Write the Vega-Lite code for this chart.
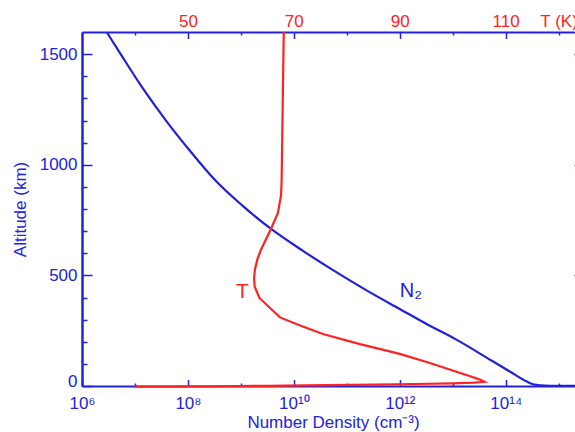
{
  "$schema": "https://vega.github.io/schema/vega-lite/v6.json",
  "width": 502,
  "height": 354,
  "autosize": {"type": "none"},
  "padding": {"left": 82, "top": 32, "right": 0, "bottom": 46},
  "background": "white",
  "config": {
    "view": {"stroke": null},
    "font": "Liberation Sans",
    "axis": {
      "grid": false,
      "labelFont": "Liberation Sans",
      "titleFont": "Liberation Sans",
      "titleFontWeight": "normal",
      "labelFontSize": 17,
      "titleFontSize": 17,
      "domainColor": "#2222dd",
      "tickColor": "#2222dd",
      "domainWidth": 2,
      "tickWidth": 1.5,
      "labelOverlap": false,
      "labelBound": false,
      "labelColor": "#2222dd",
      "titleColor": "#2222dd"
    }
  },
  "datasets": {
    "n2": [
      {"alt": 1600, "n": 2.92e6},
      {"alt": 1500, "n": 5.37e6},
      {"alt": 1345, "n": 1.41e7},
      {"alt": 1203, "n": 3.76e7},
      {"alt": 1062, "n": 1.10e8},
      {"alt": 932, "n": 3.21e8},
      {"alt": 815, "n": 1.07e9},
      {"alt": 711, "n": 3.66e9},
      {"alt": 611, "n": 1.48e10},
      {"alt": 519, "n": 5.89e10},
      {"alt": 431, "n": 2.40e11},
      {"alt": 348, "n": 9.95e11},
      {"alt": 277, "n": 3.39e12},
      {"alt": 209.5, "n": 1.17e13},
      {"alt": 115, "n": 5.37e13},
      {"alt": 62, "n": 1.26e14},
      {"alt": 21, "n": 2.45e14},
      {"alt": 9, "n": 3.16e14},
      {"alt": 4.5, "n": 3.98e14},
      {"alt": 2, "n": 5.62e14},
      {"alt": 0.8, "n": 1.0e15},
      {"alt": 0.2, "n": 2.0e15},
      {"alt": 0, "n": 3.0e15}
    ],
    "temp": [
      {"i": 1, "alt": -3, "T": 40},
      {"i": 2, "alt": -3, "T": 46},
      {"i": 3, "alt": -1.5, "T": 55},
      {"i": 4, "alt": 1, "T": 65},
      {"i": 5, "alt": 3, "T": 72},
      {"i": 6, "alt": 6, "T": 85},
      {"i": 7, "alt": 9, "T": 93},
      {"i": 8, "alt": 12, "T": 100},
      {"i": 9, "alt": 15, "T": 104},
      {"i": 10, "alt": 19, "T": 106},
      {"i": 11, "alt": 30, "T": 105},
      {"i": 12, "alt": 44, "T": 103.3},
      {"i": 13, "alt": 104, "T": 95.7},
      {"i": 14, "alt": 145, "T": 90},
      {"i": 15, "alt": 189, "T": 82.5},
      {"i": 16, "alt": 235, "T": 75.5},
      {"i": 17, "alt": 273, "T": 71.2},
      {"i": 18, "alt": 310, "T": 67.4},
      {"i": 19, "alt": 398, "T": 63.5},
      {"i": 20, "alt": 450, "T": 62.6},
      {"i": 21, "alt": 488, "T": 62.5},
      {"i": 22, "alt": 526, "T": 62.65},
      {"i": 23, "alt": 571, "T": 63.1},
      {"i": 24, "alt": 616, "T": 63.8},
      {"i": 25, "alt": 711, "T": 65.7},
      {"i": 26, "alt": 782, "T": 67.0},
      {"i": 27, "alt": 864, "T": 67.6},
      {"i": 28, "alt": 932, "T": 67.7},
      {"i": 29, "alt": 1600, "T": 68.1}
    ],
    "n2label": [{"n": 1e12, "alt": 402, "text": "N₂"}],
    "tlabel": [{"T": 60.3, "alt": 399, "text": "T"}]
  },
  "layer": [
    {
      "layer": [
        {
          "data": {"name": "n2"},
          "mark": {"type": "line", "color": "#2020d8", "strokeWidth": 2.2, "interpolate": "monotone"},
          "encoding": {
            "x": {
              "field": "n",
              "type": "quantitative",
              "scale": {"type": "log", "domain": [1e6, 3e15], "nice": false},
              "axis": {
                "orient": "bottom",
                "values": [1e6, 1e7, 1e8, 1e9, 1e10, 1e11, 1e12, 1e13, 1e14, 1e15],
                "tickSize": {"expr": "round(log(datum.value)/LN10) % 2 == 0 ? -6.5 : -3"},
                "labelExpr": "round(log(datum.value)/LN10) == 6 ? '10⁶' : round(log(datum.value)/LN10) == 8 ? '10⁸' : round(log(datum.value)/LN10) == 10 ? '10¹⁰' : round(log(datum.value)/LN10) == 12 ? '10¹²' : round(log(datum.value)/LN10) == 14 ? '10¹⁴' : ''",
                "labelPadding": 15.8,
                "labelFlush": false,
                "labelOverlap": false,
                "title": "Number Density (cm⁻³)",
                "titlePadding": 0
              }
            },
            "y": {
              "field": "alt",
              "type": "quantitative",
              "scale": {"domain": [0, 1600], "nice": false, "zero": false},
              "axis": {
                "orient": "left",
                "values": [0, 500, 1000, 1500],
                "format": "d",
                "labelBaseline": {"expr": "datum.value == 0 ? 'alphabetic' : 'middle'"},
                "tickSize": -10,
                "labelPadding": 15,
                "labelFlush": false,
                "labelOverlap": false,
                "title": "Altitude (km)",
                "titlePadding": 10
              }
            },
            "order": {"field": "alt"}
          }
        },
        {
          "data": {"name": "n2label"},
          "mark": {"type": "text", "color": "#2020d8", "fontSize": 20, "align": "left", "baseline": "alphabetic", "font": "Liberation Sans"},
          "encoding": {
            "x": {"field": "n", "type": "quantitative", "scale": {"type": "log", "domain": [1e6, 3e15], "nice": false}},
            "y": {"field": "alt", "type": "quantitative", "scale": {"domain": [0, 1600], "nice": false, "zero": false}},
            "text": {"field": "text"}
          }
        }
      ]
    },
    {
      "layer": [
        {
          "data": {"name": "temp"},
          "mark": {"type": "line", "color": "#ff2222", "strokeWidth": 2.2},
          "encoding": {
            "x": {
              "field": "T",
              "type": "quantitative",
              "scale": {"domain": [30, 124.8], "nice": false, "zero": false},
              "axis": {
                "orient": "top",
                "values": [40, 50, 60, 70, 80, 90, 100, 110, 120],
                "tickSize": {"expr": "datum.value % 20 == 10 ? -6.5 : -3"},
                "labelExpr": "datum.value % 20 == 10 ? datum.label : (datum.value == 120 ? 'T (K)' : '')",
                "labelColor": "#ff2222",
                "labelPadding": {"expr": "datum.value == 120 ? 4.1 : 7.6"},
                "labelFlush": false,
                "labelOverlap": false,
                "title": null
              }
            },
            "y": {
              "field": "alt",
              "type": "quantitative",
              "scale": {"domain": [0, 1600], "nice": false, "zero": false},
              "axis": {
                "orient": "left",
                "values": [100, 200, 300, 400, 600, 700, 800, 900, 1100, 1200, 1300, 1400],
                "tickSize": -5,
                "labels": false,
                "title": null
              }
            },
            "order": {"field": "i"}
          }
        },
        {
          "data": {"name": "tlabel"},
          "mark": {"type": "text", "color": "#ff2222", "fontSize": 21, "align": "center", "baseline": "alphabetic", "font": "Liberation Sans"},
          "encoding": {
            "x": {"field": "T", "type": "quantitative", "scale": {"domain": [30, 124.8], "nice": false, "zero": false}},
            "y": {
              "field": "alt",
              "type": "quantitative",
              "scale": {"domain": [0, 1600], "nice": false, "zero": false},
              "axis": {
                "orient": "right",
                "values": [0, 100, 200, 300, 400, 500, 600, 700, 800, 900, 1000, 1100, 1200, 1300, 1400, 1500],
                "tickSize": {"expr": "datum.value % 500 == 0 ? -10 : -5"},
                "labels": false,
                "title": null
              }
            },
            "text": {"field": "text"}
          }
        }
      ],
      "resolve": {"axis": {"y": "independent"}}
    }
  ],
  "resolve": {"scale": {"x": "independent"}, "axis": {"x": "independent", "y": "independent"}}
}
